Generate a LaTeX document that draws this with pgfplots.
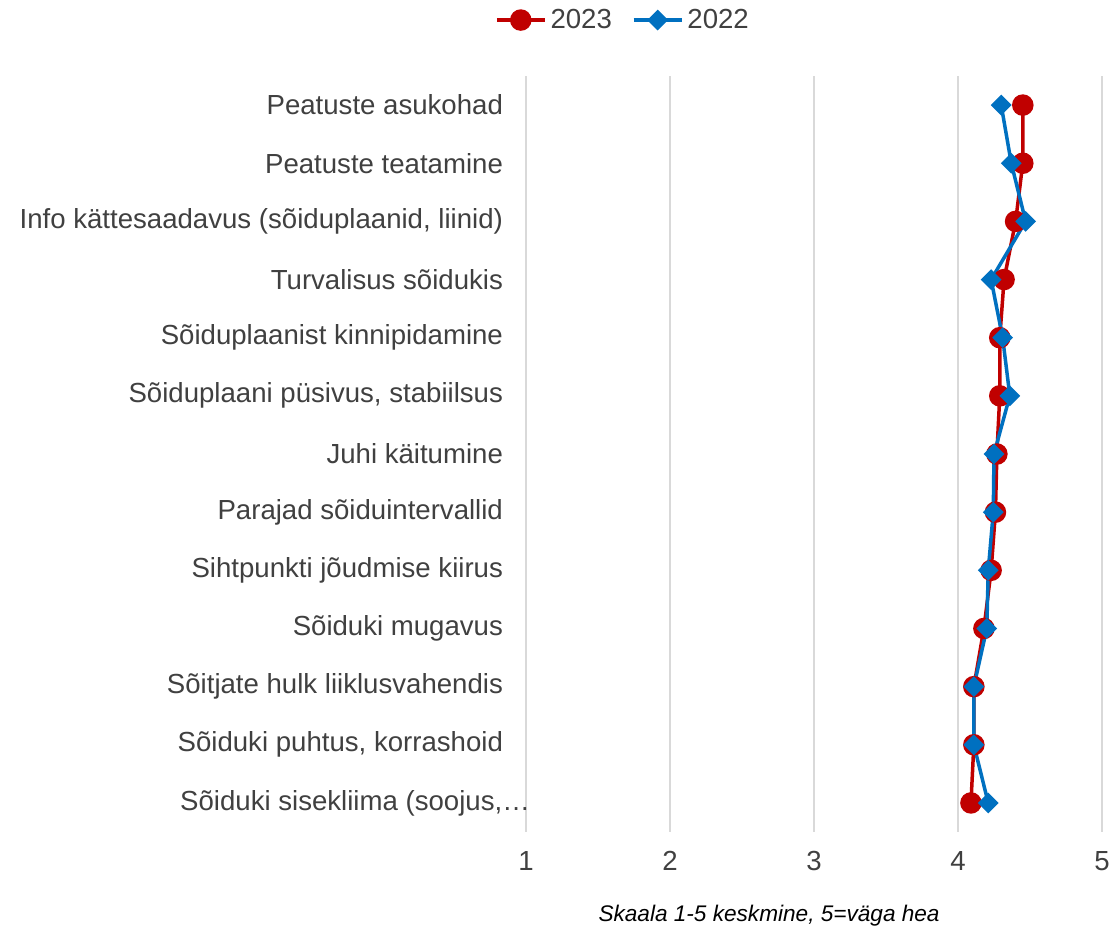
\documentclass[border=0pt]{standalone}
\usepackage{pgfplots}
\pgfplotsset{compat=1.18}
\usepackage{fontspec}
\setmainfont{Liberation Sans}
\definecolor{cred}{HTML}{C00000}
\definecolor{cblue}{HTML}{0070C0}
\definecolor{ctext}{HTML}{404040}
\definecolor{cgrid}{HTML}{D9D9D9}
\begin{document}
\begin{tikzpicture}
\useasboundingbox (0,0) rectangle (555.5pt,463.5pt);
\begin{axis}[
  at={(263pt,47.5pt)}, anchor=south west,
  scale only axis, width=288pt, height=378pt,
  xmin=1, xmax=5, xtick={1,2,3,4,5},
  ymin=-0.5, ymax=12.5, y dir=reverse,
  ytick={0,...,12},
  yticklabels={Peatuste asukohad, Peatuste teatamine, {Info kättesaadavus (sõiduplaanid, liinid)}, Turvalisus sõidukis, Sõiduplaanist kinnipidamine, {Sõiduplaani püsivus, stabiilsus}, Juhi käitumine, Parajad sõiduintervallid, Sihtpunkti jõudmise kiirus, Sõiduki mugavus, Sõitjate hulk liiklusvahendis, {Sõiduki puhtus, korrashoid}, {Sõiduki sisekliima (soojus,…\hspace*{-13.5pt}}},
  /pgf/number format/assume math mode=true,
  axis line style={draw=none},
  major tick style={draw=none},
  xmajorgrids, grid style={cgrid, line width=0.75pt},
  tick label style={font=\fontsize{13.8}{16}\selectfont, text=ctext},
  yticklabel style={xshift=-8pt},
  xticklabel style={yshift=-6pt},
  xlabel={Skaala 1-5 keskmine, 5=väga hea},
  xlabel style={font=\fontsize{11.3}{13}\selectfont\itshape, text=black, at={(rel axis cs:0.422,-0.11)}, anchor=center},
  legend style={draw=none, fill=none, at={(0.17,1.074)}, anchor=center, legend columns=2, font=\fontsize{13.8}{16}\selectfont, text=ctext, /tikz/every even column/.append style={column sep=8pt}},
  legend image code/.code={
    \draw[#1, mark=none] (0pt,0pt) -- (24pt,0pt);
    \draw[#1, only marks] plot coordinates {(12pt,0pt)};
  },
  clip=false,
]
\addplot[cred, line width=1.75pt, mark=*, mark size=4.5pt, mark options={solid, fill=cred, draw=cred}] coordinates {
(4.45,0) (4.45,1) (4.40,2) (4.32,3) (4.29,4) (4.29,5) (4.27,6) (4.26,7) (4.23,8) (4.18,9) (4.11,10) (4.11,11) (4.09,12)
};
\addlegendentry{2023}
\addplot[cblue, line width=1.75pt, mark=square*, mark size=2.8pt, mark options={solid, fill=cblue, draw=cblue, rotate=45}] coordinates {
(4.30,0) (4.37,1) (4.47,2) (4.23,3) (4.31,4) (4.36,5) (4.25,6) (4.245,7) (4.21,8) (4.20,9) (4.11,10) (4.11,11) (4.21,12)
};
\addlegendentry{2022}
\end{axis}
\end{tikzpicture}
\end{document}
